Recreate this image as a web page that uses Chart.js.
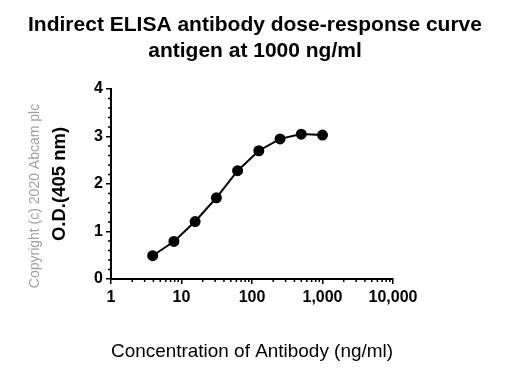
<!DOCTYPE html>
<html>
<head>
<meta charset="utf-8">
<script src="https://cdn.jsdelivr.net/npm/chart.js@4"></script>
<style>
  html, body { margin: 0; padding: 0; background: #fff; }
  #wrap { width: 509px; height: 391px; }
</style>
</head>
<body>
<div id="wrap"><canvas id="elisaChart" width="509" height="391"></canvas></div>
<script>
const concentration = [3.9, 7.8, 15.6, 31.25, 62.5, 125, 250, 500, 1000];
const od405 = [0.49, 0.79, 1.21, 1.71, 2.28, 2.70, 2.95, 3.05, 3.03];
const xTicks = [1, 10, 100, 1000, 10000];
const yTicks = [0, 1, 2, 3, 4];
const titleLines = ['Indirect ELISA antibody dose-response curve', 'antigen at 1000 ng/ml'];

const FONT = 'Arial, "Liberation Sans", sans-serif';

// title, short minor ticks + copyright note
const extras = {
    id: 'extras',
    afterDraw(chart) {
        const c = chart.ctx;
        const x = chart.scales.x, y = chart.scales.y;
        c.save();
        c.fillStyle = '#000';
        c.font = 'bold 21px ' + FONT;
        c.textAlign = 'center';
        c.textBaseline = 'alphabetic';
        c.fillText(titleLines[0], 255, 31);
        c.fillText(titleLines[1], 255, 57);

        c.strokeStyle = '#000';
        c.lineWidth = 1.5;
        c.beginPath();
        for (let v = 0; v < 4; v++) {
            for (let k = 1; k < 5; k++) {
                const py = y.getPixelForValue(v + k * 0.2);
                c.moveTo(x.left, py);
                c.lineTo(x.left - 3, py);
            }
        }
        for (let d = 1; d < 10000; d *= 10) {
            for (let k = 2; k < 10; k++) {
                const px = x.getPixelForValue(d * k);
                c.moveTo(px, y.bottom);
                c.lineTo(px, y.bottom + 3);
            }
        }
        c.stroke();

        c.translate(35, 196);
        c.rotate(-Math.PI / 2);
        c.fillStyle = '#a0a0a0';
        c.font = '14px ' + FONT;
        c.textAlign = 'center';
        c.textBaseline = 'middle';
        c.fillText('Copyright (c) 2020 Abcam plc', 0, 0);
        c.restore();
    }
};

new Chart(document.getElementById('elisaChart'), {
    type: 'line',
    data: {
        datasets: [{
            data: concentration.map((c, i) => ({ x: c, y: od405[i] })),
            borderColor: '#000',
            backgroundColor: '#000',
            borderWidth: 2,
            pointRadius: 4.5,
            pointHoverRadius: 4.5,
            tension: 0
        }]
    },
    options: {
        responsive: false,
        animation: false,
        layout: { padding: { left: 45, right: 116, top: 89, bottom: 22 } },
        plugins: {
            legend: { display: false },
            tooltip: { enabled: false },
            title: { display: false }
        },
        scales: {
            x: {
                type: 'logarithmic',
                min: 1,
                max: 10000,
                afterBuildTicks: s => { s.ticks = xTicks.map(v => ({ value: v })); },
                afterFit: s => { s.height = 90; },
                border: { color: '#000', width: 2 },
                grid: { drawOnChartArea: false, color: '#000', tickLength: 5, lineWidth: 1.5 },
                ticks: {
                    color: '#000',
                    padding: 4,
                    maxRotation: 0,
                    font: { family: FONT, size: 16, weight: 'bold' },
                    callback: v => Number(v).toLocaleString('en-US')
                },
                title: {
                    display: true,
                    text: 'Concentration of Antibody (ng/ml)',
                    color: '#000',
                    font: { family: FONT, size: 19 },
                    padding: { top: 0, bottom: 6 }
                }
            },
            y: {
                min: 0,
                max: 4,
                afterBuildTicks: s => { s.ticks = yTicks.map(v => ({ value: v })); },
                afterFit: s => { s.width = 66; },
                border: { color: '#000', width: 2 },
                grid: { drawOnChartArea: false, color: '#000', tickLength: 5, lineWidth: 1.5 },
                ticks: {
                    color: '#000',
                    padding: 3,
                    font: { family: FONT, size: 16, weight: 'bold' }
                },
                title: {
                    display: true,
                    text: 'O.D.(405 nm)',
                    color: '#000',
                    font: { family: FONT, size: 18.5, weight: 'bold' },
                    padding: { top: 4, bottom: 0 }
                }
            }
        }
    },
    plugins: [extras]
});
</script>
</body>
</html>
